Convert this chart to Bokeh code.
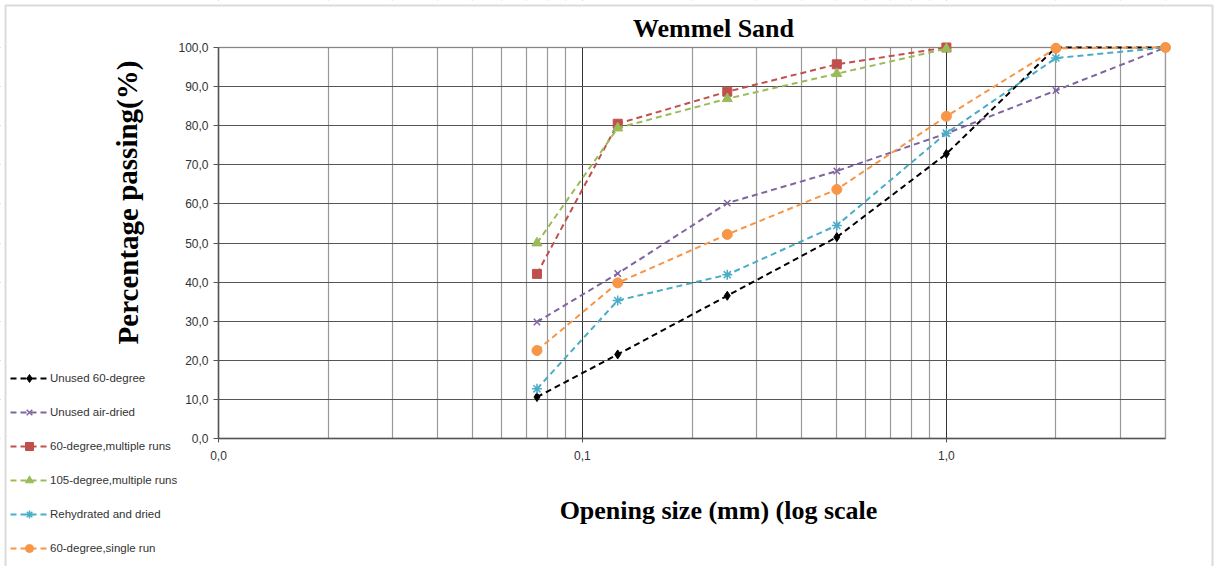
from bokeh.plotting import figure
from bokeh.models import (FixedTicker, CustomJSTickFormatter, Legend, LegendItem, Label,
                          LinearAxis, LogAxis, BoxAnnotation, Range1d)
from bokeh.embed import file_html
from bokeh.resources import INLINE
import math

sizes = [0.075, 0.125, 0.25, 0.5, 1.0, 2.0, 4.0]
unused_60 = [10.6, 21.5, 36.5, 51.5, 72.8, 100.0, 100.0]
unused_air = [29.8, 42.2, 60.2, 68.4, 78.0, 89.0, 100.0]
deg60_multi = [42.1, 80.5, 88.7, 95.7, 100.0]
deg105_multi = [50.0, 79.4, 86.9, 93.3, 99.7]
rehydrated = [12.7, 35.3, 41.9, 54.5, 78.1, 97.3, 100.0]
deg60_single = [22.5, 39.8, 52.2, 63.7, 82.4, 99.8, 100.0]

series = [
    ("Unused 60-degree", unused_60, "#000000", "diamond", 9),
    ("Unused air-dried", unused_air, "#8064A2", "x", 9),
    ("60-degree,multiple runs", deg60_multi, "#C0504D", "square", 9),
    ("105-degree,multiple runs", deg105_multi, "#9BBB59", "triangle", 10),
    ("Rehydrated and dried", rehydrated, "#4BACC6", "asterisk", 10),
    ("60-degree,single run", deg60_single, "#F79646", "circle", 10),
]

x_major = [0.01, 0.1, 1.0]
x_minor = [0.02, 0.03, 0.04, 0.05, 0.06, 0.07, 0.08, 0.09,
           0.2, 0.3, 0.4, 0.5, 0.6, 0.7, 0.8, 0.9, 2.0, 3.0, 4.0]
y_ticks = [0, 10, 20, 30, 40, 50, 60, 70, 80, 90, 100]
x_lo, x_hi = 0.01, 4.0
y_lo, y_hi = 0, 100

# Layout: the frame covers the whole canvas; the plot area is placed by padding the ranges.
W, H = 1216, 566
L, R, T, B = 218, 51, 47, 128
dec = (W - L - R) / (math.log10(x_hi) - math.log10(x_lo))
xr = Range1d(10 ** (math.log10(x_lo) - L / dec), 10 ** (math.log10(x_hi) + R / dec))
ppu = (H - T - B) / (y_hi - y_lo)
yr = Range1d(y_lo - B / ppu, y_hi + T / ppu)

p = figure(width=W, height=H, x_axis_type="log", x_range=xr, y_range=yr,
           output_backend="svg", toolbar_location=None,
           x_axis_location=None, y_axis_location=None,
           min_border=0, min_border_left=0, min_border_right=0, min_border_top=0, min_border_bottom=0)
p.title = None
p.outline_line_color = None
p.background_fill_color = "white"
p.border_fill_color = "white"

p.xgrid.ticker = FixedTicker(ticks=x_major, minor_ticks=x_minor)
p.xgrid.grid_line_color = "#333333"
p.xgrid.minor_grid_line_color = "#999999"
p.xgrid.grid_line_width = 1
p.xgrid.minor_grid_line_width = 1.2
p.ygrid.ticker = FixedTicker(ticks=y_ticks)
p.ygrid.grid_line_color = "#555555"

# white masks so grid lines stay inside the plot area
for kw in (dict(right=x_lo), dict(left=x_hi), dict(top=y_lo), dict(bottom=y_hi)):
    p.add_layout(BoxAnnotation(fill_color="white", fill_alpha=1, line_color=None,
                               level="underlay", **kw))

fmt = "return tick.toFixed(1).replace('.', ',');"
xaxis = LogAxis(ticker=FixedTicker(ticks=x_major, minor_ticks=x_minor), fixed_location=y_lo,
                bounds=(x_lo, x_hi), formatter=CustomJSTickFormatter(code=fmt))
yaxis = LinearAxis(ticker=FixedTicker(ticks=y_ticks), fixed_location=x_lo,
                   bounds=(y_lo, y_hi), formatter=CustomJSTickFormatter(code=fmt))
for ax in (xaxis, yaxis):
    ax.axis_line_color = "#555555"
    ax.axis_line_width = 1.5
    ax.major_tick_line_color = "#555555"
    ax.major_tick_out = 5
    ax.major_tick_in = 0
    ax.minor_tick_out = 0
    ax.minor_tick_in = 0
    ax.major_label_text_font = "Liberation Sans"
    ax.major_label_text_font_size = "12px"
    ax.major_label_text_color = "#333333"
xaxis.major_tick_out = 4
xaxis.major_label_standoff = 8
yaxis.major_label_standoff = 5
p.add_layout(xaxis, "below")
p.add_layout(yaxis, "left")

frame = BoxAnnotation(left=x_lo, right=x_hi, bottom=y_lo, top=y_hi, fill_alpha=0,
                      line_color="#333333", line_width=1.5, level="underlay")
p.add_layout(frame)

items = []
for name, vals, color, marker, size in series:
    xs = sizes[:len(vals)]
    r1 = p.line(xs, vals, line_color=color, line_width=2, line_dash="6 4")
    kw = dict(size=size, line_color=color, fill_color=color)
    if marker in ("x", "asterisk"):
        kw = dict(size=size, line_color=color, line_width=1.5)
    r2 = p.scatter(xs, vals, marker=marker, **kw)
    items.append(LegendItem(label=name, renderers=[r1, r2]))

legend = Legend(items=items, location=(10, 8), orientation="vertical",
                glyph_width=38, glyph_height=20, spacing=14, padding=0, margin=0,
                label_standoff=2, label_text_font="Liberation Sans", label_text_font_size="11.5px",
                label_text_color="#333333", border_line_color=None, background_fill_alpha=0)
p.add_layout(legend, "center")

title = Label(x=713, y=538, x_units="screen", y_units="screen", text="Wemmel Sand",
              text_font="Liberation Serif", text_font_style="bold", text_font_size="26px",
              text_align="center", text_baseline="middle", text_color="#000000")
ylab = Label(x=127, y=364, x_units="screen", y_units="screen", text="Percentage passing(%)",
             text_font="Liberation Serif", text_font_style="bold", text_font_size="29px",
             text_align="center", text_baseline="middle", angle=1.5708, text_color="#000000")
xlab = Label(x=718, y=56, x_units="screen", y_units="screen", text="Opening size (mm) (log scale",
             text_font="Liberation Serif", text_font_style="bold", text_font_size="26px",
             text_align="center", text_baseline="middle", text_color="#000000")
for l in (title, ylab, xlab):
    p.add_layout(l)

border = BoxAnnotation(left=5, right=1212, top=561, bottom=-10, left_units="screen",
                       right_units="screen", top_units="screen", bottom_units="screen",
                       fill_alpha=0, line_color="#888888", line_width=2)
p.add_layout(border)

open("out.html", "w").write(file_html(p, INLINE))
